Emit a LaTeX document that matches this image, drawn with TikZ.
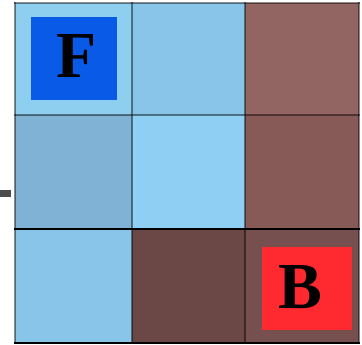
\documentclass[tikz,border=0pt]{standalone}
\usepackage{fontspec}
\setmainfont{Liberation Serif}
\usepackage{tikz}
\usepackage{xcolor}
\definecolor{skyA}{RGB}{142,207,240}
\definecolor{skyB}{RGB}{136,197,232}
\definecolor{skyC}{RGB}{127,178,212}
\definecolor{skyD}{RGB}{142,207,243}
\definecolor{mudA}{RGB}{146,101,98}
\definecolor{mudB}{RGB}{135,90,88}
\definecolor{mudC}{RGB}{107,72,69}
\definecolor{mudD}{RGB}{118,80,78}
\definecolor{frontblue}{RGB}{10,90,232}
\definecolor{backred}{RGB}{255,42,48}

\begin{document}
\begin{tikzpicture}[x=0.03cm,y=-0.03cm,line cap=rect,
  gridline/.style={black,opacity=0.45,line width=0.04cm},
  tag/.style={inner sep=0pt,font=\bfseries\fontsize{56}{56}\selectfont}]
\useasboundingbox (0,0) rectangle (362,345);
% cells
\fill[skyA] (15,3) rectangle (132,115);
\fill[skyB] (132,3) rectangle (245,115);
\fill[mudA] (245,3) rectangle (359,115);
\fill[skyC] (15,115) rectangle (132,229);
\fill[skyD] (132,115) rectangle (245,229);
\fill[mudB] (245,115) rectangle (359,229);
\fill[skyB] (15,229) rectangle (132,343);
\fill[mudC] (132,229) rectangle (245,343);
\fill[mudD] (245,229) rectangle (359,343);
% grid lines
\foreach \x in {15,132,245,359} \draw[gridline] (\x,3) -- (\x,343);
\foreach \y in {3,115} \draw[gridline] (15,\y) -- (359,\y);
\draw[black,line width=0.07cm] (15,229) -- (359,229);
\draw[black,line width=0.07cm] (15,343) -- (359,343);
% marker
\fill[black!70] (0,190) rectangle (11,197);
% squares
\node[fill=frontblue,minimum width=2.58cm,minimum height=2.49cm] (front) at (74,58.5) {};
\node[tag] (ftext) at ([xshift=0.075cm,yshift=0.075cm]front.center) {F};
\node[fill=backred,minimum width=2.7cm,minimum height=2.49cm] (back) at (307,288.5) {};
\node[tag] (btext) at ([xshift=-0.195cm,yshift=0.045cm]back.center) {B};
\end{tikzpicture}
\end{document}
